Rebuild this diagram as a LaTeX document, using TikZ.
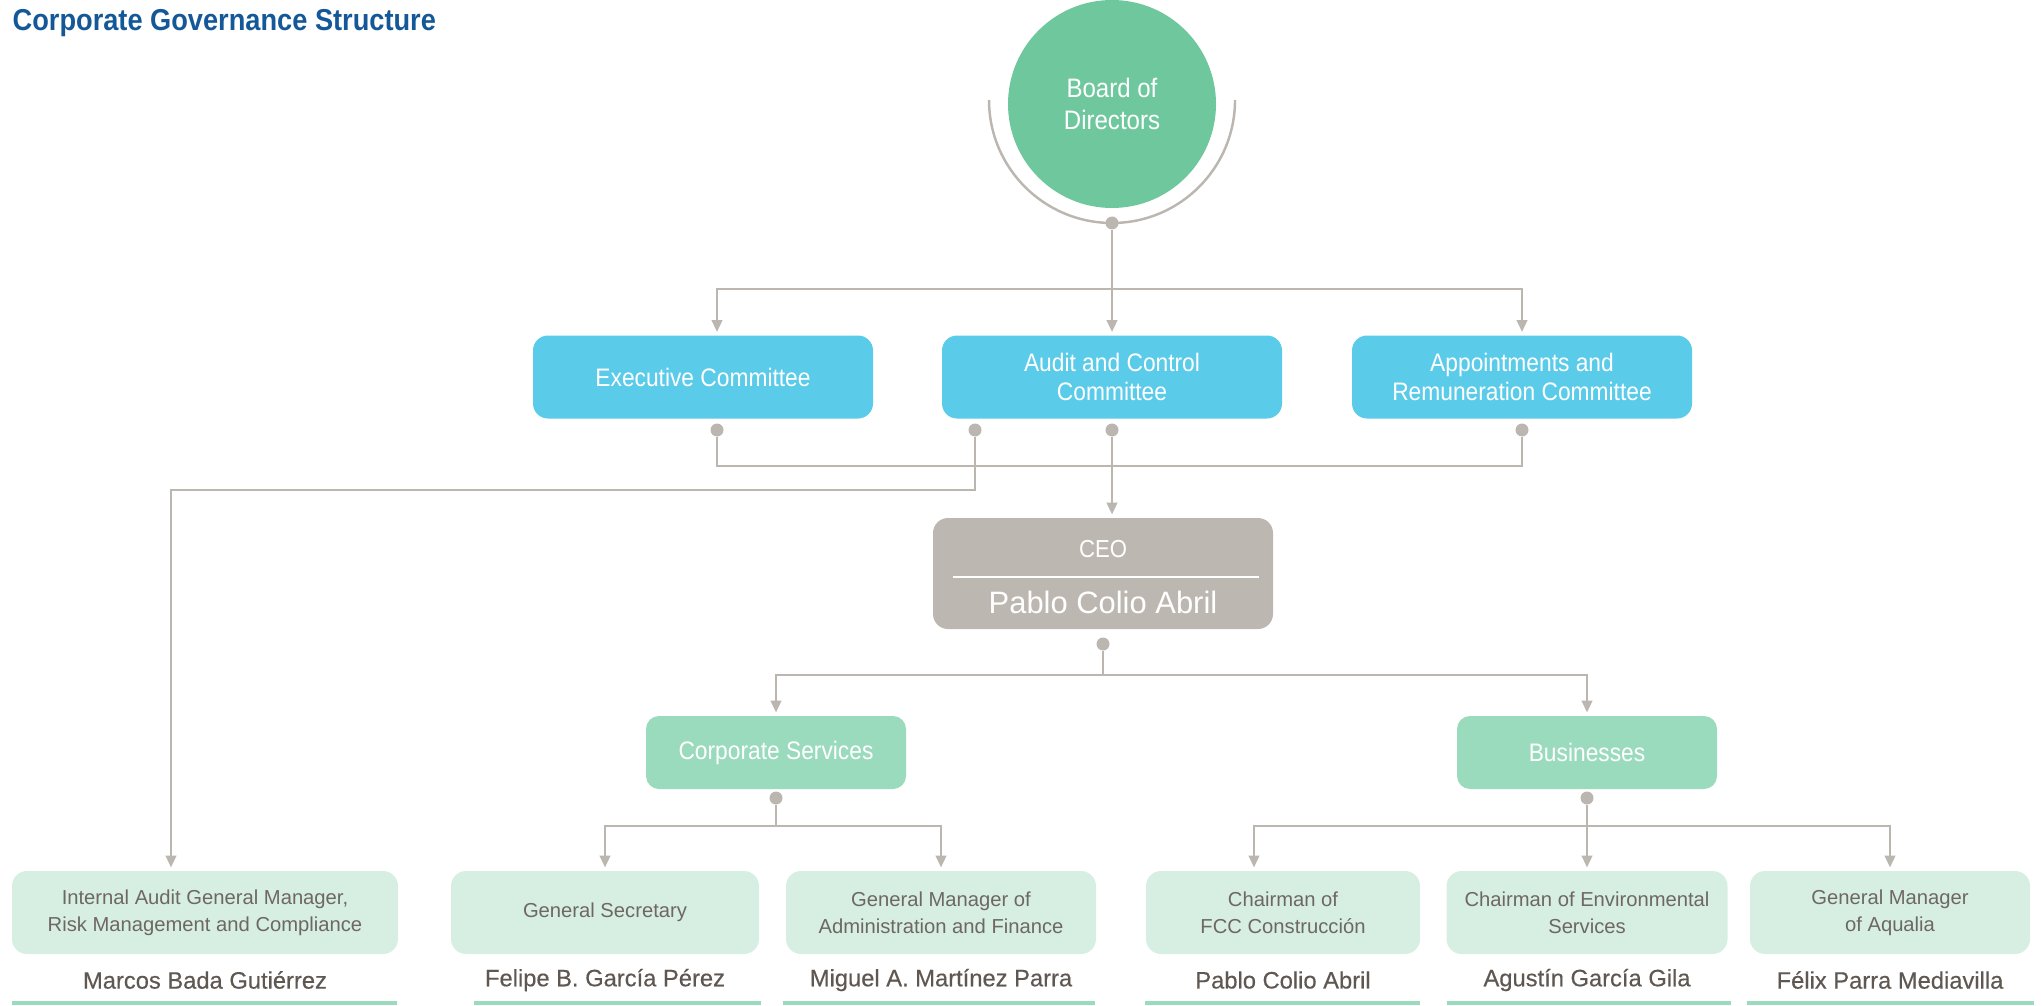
\documentclass[tikz,border=0pt]{standalone}
\usepackage{fontspec}
\setmainfont{Liberation Sans}
\newfontfamily\condfont[FakeStretch=0.9]{Liberation Sans}
\newfontfamily\namefont[FakeBold=0.35]{Liberation Sans}
\usepackage{tikz}
\usetikzlibrary{arrows.meta}
\definecolor{ttlblue}{RGB}{21,88,152}
\definecolor{boardgreen}{RGB}{111,200,157}
\definecolor{comblue}{RGB}{91,203,234}
\definecolor{ceogray}{RGB}{189,183,177}
\definecolor{midgreen}{RGB}{155,219,189}
\definecolor{palegreen}{RGB}{214,239,226}
\definecolor{linegray}{RGB}{188,182,176}
\definecolor{txtgray}{RGB}{110,103,98}
\definecolor{namegray}{RGB}{95,87,82}
\tikzstyle{board}=[circle, fill=boardgreen, minimum size=2.08cm, inner sep=0pt, text=white, align=center, font=\condfont\fontsize{7.6}{9.1}\selectfont]
\tikzstyle{com}=[rectangle, rounded corners=0.15cm, fill=comblue, minimum width=3.4cm, minimum height=0.83cm, text=white, align=center, font=\condfont\fontsize{7.2}{8.5}\selectfont]
\tikzstyle{ceobox}=[rectangle, rounded corners=0.15cm, fill=ceogray, minimum width=3.4cm, minimum height=1.11cm]
\tikzstyle{dept}=[rectangle, rounded corners=0.13cm, fill=midgreen, minimum width=2.6cm, minimum height=0.73cm, text=white, font=\condfont\fontsize{7.2}{8.5}\selectfont]
\tikzstyle{post}=[rectangle, rounded corners=0.15cm, fill=palegreen, minimum height=0.83cm, text=txtgray, align=center, font=\fontsize{5.75}{7.7}\selectfont]
\tikzstyle{person}=[text=namegray, font=\namefont\fontsize{6.75}{8}\selectfont]
\tikzstyle{jdot}=[circle, fill=linegray, minimum size=0.13cm, inner sep=0pt]
\tikzstyle{link}=[draw=linegray, line width=0.7pt]
\tikzstyle{arr}=[link, ->, shorten >=0.8pt]

\begin{document}
\begin{tikzpicture}[>={Triangle[length=3.4pt,width=3pt]}]
\useasboundingbox (0,0) rectangle (20.42,-10.05);
\node [anchor=west, inner sep=0pt, text=ttlblue, font=\condfont\bfseries\fontsize{8.6}{10}\selectfont] (title) at (0.12,-0.23) {Corporate Governance Structure};

\draw [link] (9.89,-1.00) arc (180:360:1.23);
\node [board] (board) at (11.12,-1.04) {Board of\\Directors};
\node [jdot] (db) at (11.12,-2.23) {};
\node [coordinate] (jb) at (11.12,-2.89) {};

\node [com] (ex) at (7.03,-3.77) {Executive Committee};
\node [com] (au) at (11.12,-3.77) {Audit and Control\\Committee};
\node [com] (ap) at (15.22,-3.77) {Appointments and\\Remuneration Committee};

\node [jdot] (dex) at (7.17,-4.30) {};
\node [jdot] (dal) at (9.75,-4.30) {};
\node [jdot] (dau) at (11.12,-4.30) {};
\node [jdot] (dap) at (15.22,-4.30) {};
\node [coordinate] (jm) at (15.22,-4.66) {};
\node [coordinate] (jl) at (1.71,-4.90) {};

\node [ceobox] (ceo) at (11.03,-5.735) {};
\node [text=white, font=\condfont\fontsize{7}{8}\selectfont] (ceot) at (11.03,-5.49) {CEO};
\node [text=white, font=\fontsize{8.8}{10}\selectfont] (ceon) at (11.03,-6.02) {Pablo Colio Abril};
\draw [white, line width=0.8pt] (9.53,-5.77) -- (12.59,-5.77);
\node [jdot] (dce) at (11.03,-6.44) {};
\node [coordinate] (jc) at (11.03,-6.75) {};

\node [dept] (co) at (7.76,-7.525) {Corporate Services};
\node [dept] (bu) at (15.87,-7.525) {Businesses};
\node [jdot] (dco) at (7.76,-7.98) {};
\node [jdot] (dbu) at (15.87,-7.98) {};
\node [coordinate] (jcs) at (7.76,-8.26) {};
\node [coordinate] (jbu) at (15.87,-8.26) {};
\node [coordinate] (jf) at (12.54,-8.26) {};

\node [post, minimum width=3.86cm] (ia) at (2.05,-9.125) {Internal Audit General Manager,\\Risk Management and Compliance};
\node [post, minimum width=3.08cm] (gs) at (6.05,-9.125) {General Secretary};
\node [post, minimum width=3.10cm] (gm) at (9.41,-9.125) {General Manager of\\Administration and Finance};
\node [post, minimum width=2.74cm] (fcc) at (12.83,-9.125) {Chairman of\\FCC Construcción};
\node [post, minimum width=2.81cm] (env) at (15.87,-9.125) {Chairman of Environmental\\Services};
\node [post, minimum width=2.80cm] (aq) at (18.90,-9.125) {General Manager\\of Aqualia};

\node [person] (nia) [below of=ia, node distance=0.675cm] {Marcos Bada Gutiérrez};
\node [person] (ngs) [below of=gs, node distance=0.675cm] {Felipe B. García Pérez};
\node [person] (ngm) [below of=gm, node distance=0.675cm] {Miguel A. Martínez Parra};
\node [person] (nfcc) [below of=fcc, node distance=0.675cm] {Pablo Colio Abril};
\node [person] (nenv) [below of=env, node distance=0.675cm] {Agustín García Gila};
\node [person] (naq) [below of=aq, node distance=0.675cm] {Félix Parra Mediavilla};

\fill [midgreen] (0.12,-10.01) rectangle (3.97,-10.05);
\fill [midgreen] (4.74,-10.01) rectangle (7.61,-10.05);
\fill [midgreen] (7.83,-10.01) rectangle (10.95,-10.05);
\fill [midgreen] (11.45,-10.01) rectangle (14.20,-10.05);
\fill [midgreen] (14.47,-10.01) rectangle (17.31,-10.05);
\fill [midgreen] (17.47,-10.01) rectangle (20.34,-10.05);

\draw [link] (db) -- (jb);
\draw [arr] (jb) -| (dex |- ex.north);
\draw [arr] (jb) -- (au);
\draw [arr] (jb) -| (ap);
\draw [link] (dex) |- (jm) -- (dap);
\draw [arr] (dau) -- (dau |- ceo.north);
\draw [arr] (dal) |- (jl) -- (jl |- ia.north);
\draw [link] (dce) -- (jc);
\draw [arr] (jc) -| (co);
\draw [arr] (jc) -| (bu);
\draw [link] (dco) -- (jcs);
\draw [arr] (jcs) -| (gs);
\draw [arr] (jcs) -| (gm);
\draw [link] (dbu) -- (jbu);
\draw [arr] (jbu) -- (jf) -- (jf |- fcc.north);
\draw [arr] (jbu) -- (env);
\draw [arr] (jbu) -| (aq);
\end{tikzpicture}
\end{document}
